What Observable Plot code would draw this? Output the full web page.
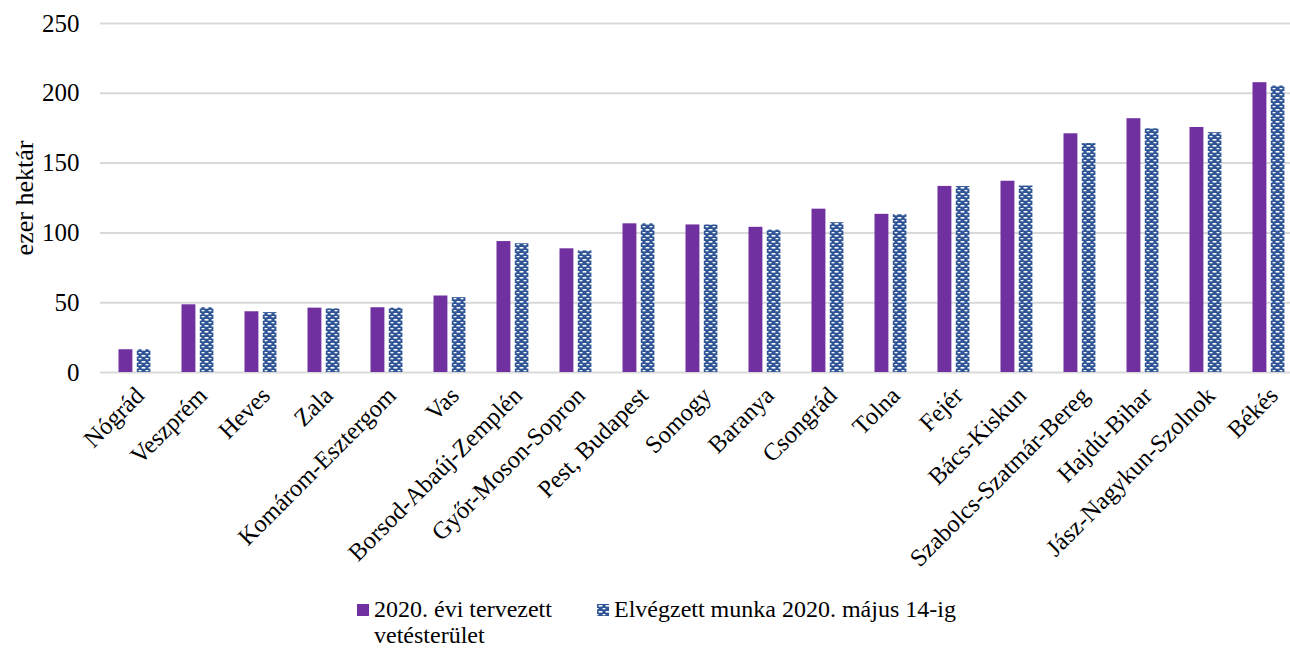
<!DOCTYPE html>
<html>
<head>
<meta charset="utf-8">
<script src="https://cdn.jsdelivr.net/npm/d3@7"></script>
<script src="https://cdn.jsdelivr.net/npm/@observablehq/plot@0.6"></script>
<style>
  html, body { margin: 0; padding: 0; background: #fff; }
  #wrap { position: relative; width: 1290px; height: 648px; overflow: hidden; font-family: "Liberation Serif", "Times New Roman", serif; color: #000; }
  #legend { position: absolute; top: 597px; left: 0; width: 1290px; height: 51px; font-size: 24px; line-height: 25.5px; }
  .item { position: absolute; top: 0; }
  .sw { position: absolute; top: 7px; width: 12px; height: 12px; }
  .txt { position: absolute; top: 0; white-space: nowrap; }
</style>
</head>
<body>
<div id="wrap">
  <div id="chart"></div>
  <div id="legend"></div>
</div>
<script>
const categories = ["Nógrád","Veszprém","Heves","Zala","Komárom-Esztergom","Vas","Borsod-Abaúj-Zemplén","Győr-Moson-Sopron","Pest, Budapest","Somogy","Baranya","Csongrád","Tolna","Fejér","Bács-Kiskun","Szabolcs-Szatmár-Bereg","Hajdú-Bihar","Jász-Nagykun-Szolnok","Békés"];
const planned = [16.3, 48.5, 43.5, 46.1, 46.4, 54.8, 93.8, 88.6, 106.5, 105.7, 104, 117, 113.3, 133.3, 137, 171, 181.8, 175.5, 207.6];
const done    = [16.3, 46.4, 42.9, 45.6, 46.1, 53.6, 92.2, 87.1, 106.5, 105.7, 102, 107.3, 113, 133.2, 133.6, 164, 174.6, 171.8, 205.2];
const yTicks = [0, 50, 100, 150, 200, 250];
const seriesNames = ["2020. évi tervezett\nvetésterület", "Elvégzett munka 2020. május 14-ig"];
const yLabel = "ezer hektár";

const PURPLE = "#7030A0";
const BLUE = "#2F5597";

const rows = categories.map((c, i) => ({region: c, planned: planned[i], done: done[i]}));

function patternDefs() {
  const ns = "http://www.w3.org/2000/svg";
  const defs = document.createElementNS(ns, "defs");
  defs.innerHTML = `
    <pattern id="weave" patternUnits="userSpaceOnUse" width="7" height="6">
      <rect width="7" height="6" fill="${BLUE}"/>
      <rect x="1.6" y="1" width="3.8" height="1.6" fill="#fff"/>
      <rect x="-2" y="4" width="3.4" height="1.3" fill="#fff"/>
      <rect x="5.6" y="4" width="3.4" height="1.3" fill="#fff"/>
    </pattern>`;
  return defs;
}

const chart = Plot.plot({
  width: 1290,
  height: 595,
  marginLeft: 100,
  marginRight: 0,
  marginTop: 23,
  marginBottom: 223,
  style: {fontFamily: '"Liberation Serif", "Times New Roman", serif', fontSize: "25px", color: "#000", background: "#fff", overflow: "visible"},
  x: {domain: categories, range: [99.5, 1302.8], padding: 0, label: null},
  y: {domain: [0, 250], label: null},
  marks: [
    patternDefs,
    Plot.ruleY(yTicks, {stroke: "#d9d9d9", strokeWidth: 2}),
    Plot.barY(rows, {x: "region", y: "planned", fill: PURPLE, insetLeft: 15.5, insetRight: 33.6}),
    Plot.barY(rows, {x: "region", y: "done", fill: "url(#weave)", insetLeft: 33.8, insetRight: 15.6}),
    Plot.axisX({tickRotate: -45, tickSize: 0, tickPadding: 14, dx: 5, dy: 5, fontSize: 24.5, label: null, fill: "#000"}),
    Plot.axisY({ticks: yTicks, tickSize: 0, tickPadding: 21, fontSize: 25, label: null, fill: "#000"}),
    Plot.axisY({ticks: [], tickSize: 0, fontSize: 26, label: yLabel, labelAnchor: "center", labelOffset: 86, labelArrow: "none", fill: "#000"})
  ]
});
document.getElementById("chart").appendChild(chart);

// legend
const legend = document.getElementById("legend");
const items = [
  {name: seriesNames[0], x: 357, color: PURPLE},
  {name: seriesNames[1], x: 597, pattern: true}
];
items.forEach(it => {
  const d = document.createElement("div");
  d.className = "item";
  d.style.left = it.x + "px";
  const s = document.createElement("div");
  s.className = "sw";
  if (it.pattern) {
    s.innerHTML = `<svg width="12" height="12" style="display:block"><rect width="12" height="12" fill="url(#weave)"/></svg>`;
  } else {
    s.style.background = it.color;
  }
  const t = document.createElement("div");
  t.className = "txt";
  t.style.left = "17px";
  t.innerHTML = it.name.split("\n").join("<br>");
  d.appendChild(s);
  d.appendChild(t);
  legend.appendChild(d);
});
</script>
</body>
</html>
